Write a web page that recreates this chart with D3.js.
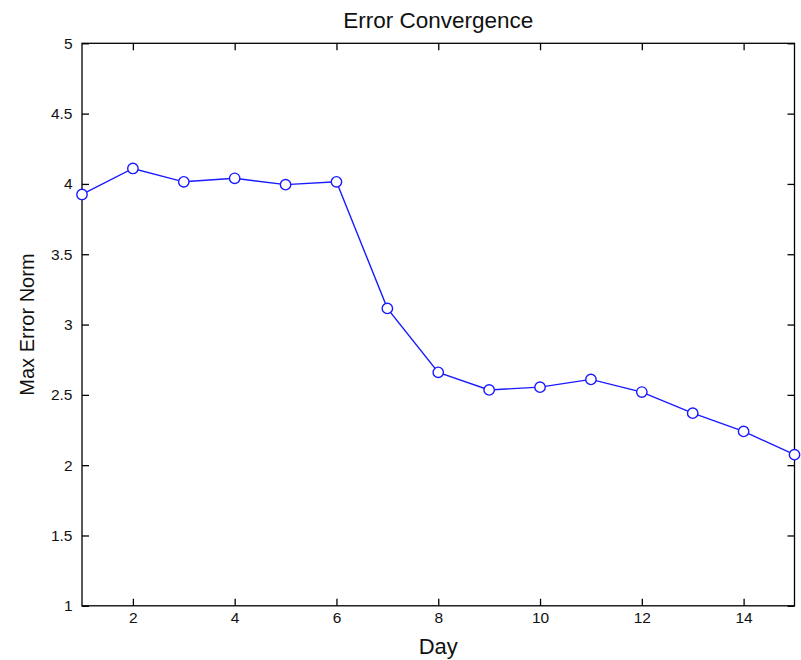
<!DOCTYPE html>
<html>
<head>
<meta charset="utf-8">
<script src="https://cdn.jsdelivr.net/npm/d3@7"></script>
<style>
  html, body { margin: 0; padding: 0; background: #fff; }
  svg { display: block; font-family: "Liberation Sans", Arial, Helvetica, sans-serif; }
</style>
</head>
<body>
<svg id="chart" width="801" height="660"></svg>
<script>
// Daily maximum error norm
const days = [1, 2, 3, 4, 5, 6, 7, 8, 9, 10, 11, 12, 13, 14, 15];
const maxErrorNorm = [3.925, 4.11, 4.015, 4.04, 3.995, 4.015, 3.115, 2.66, 2.535, 2.555, 2.61, 2.52, 2.37, 2.24, 2.075];
const xTicks = [2, 4, 6, 8, 10, 12, 14];
const yTicks = [1, 1.5, 2, 2.5, 3, 3.5, 4, 4.5, 5];

const titleText = "Error Convergence";
const xLabel = "Day";
const yLabel = "Max Error Norm";

const svg = d3.select("#chart");
const W = 801, H = 660;
const margin = { left: 82, right: W - 794.5, top: 43.3, bottom: H - 605.8 };
const x = d3.scaleLinear().domain([1, 15]).range([margin.left, W - margin.right]);
const y = d3.scaleLinear().domain([1, 5]).range([H - margin.bottom, margin.top]);

const tickLen = 7;
const fmt = d => String(d);

// axes: ticks point inward on all four sides
const axisStyle = g => {
  g.selectAll("path").remove();
  g.selectAll("line").attr("stroke", "#000").attr("stroke-width", 1.3);
  g.selectAll("text").attr("fill", "#111").style("font-size", "15.5px");
};

svg.append("g")
  .attr("transform", `translate(0,${y(1)})`)
  .call(d3.axisBottom(x).tickValues(xTicks).tickFormat(fmt).tickSizeInner(-tickLen).tickSizeOuter(0).tickPadding(6))
  .call(axisStyle);

svg.append("g")
  .attr("transform", `translate(0,${y(5)})`)
  .call(d3.axisTop(x).tickValues(xTicks).tickFormat("").tickSizeInner(-tickLen).tickSizeOuter(0))
  .call(axisStyle);

svg.append("g")
  .attr("transform", `translate(${x(1)},0)`)
  .call(d3.axisLeft(y).tickValues(yTicks).tickFormat(fmt).tickSizeInner(-tickLen).tickSizeOuter(0).tickPadding(9.5))
  .call(axisStyle);

svg.append("g")
  .attr("transform", `translate(${x(15)},0)`)
  .call(d3.axisRight(y).tickValues(yTicks).tickFormat("").tickSizeInner(-tickLen).tickSizeOuter(0))
  .call(axisStyle);

// plot frame
svg.append("rect")
  .attr("x", x(1)).attr("y", y(5))
  .attr("width", x(15) - x(1)).attr("height", y(1) - y(5))
  .attr("fill", "none").attr("stroke", "#000").attr("stroke-width", 1.3);

// series line and markers
const pts = days.map((d, i) => [d, maxErrorNorm[i]]);
svg.append("path")
  .datum(pts)
  .attr("fill", "none")
  .attr("stroke", "#1a1aff")
  .attr("stroke-width", 1.4)
  .attr("d", d3.line().x(d => x(d[0])).y(d => y(d[1])));

svg.append("g").selectAll("circle")
  .data(pts).join("circle")
  .attr("cx", d => x(d[0])).attr("cy", d => y(d[1]))
  .attr("r", 5.2)
  .attr("fill", "#fff")
  .attr("stroke", "#1a1aff")
  .attr("stroke-width", 1.4);

// labels
svg.append("text")
  .attr("x", (x(1) + x(15)) / 2).attr("y", 28)
  .attr("text-anchor", "middle")
  .attr("fill", "#111")
  .style("font-size", "22.5px")
  .text(titleText);

svg.append("text")
  .attr("x", (x(1) + x(15)) / 2).attr("y", 654)
  .attr("text-anchor", "middle")
  .attr("fill", "#111")
  .style("font-size", "22px")
  .text(xLabel);

svg.append("text")
  .attr("transform", `translate(34,${(y(1) + y(5)) / 2}) rotate(-90)`)
  .attr("text-anchor", "middle")
  .attr("fill", "#111")
  .style("font-size", "20px")
  .text(yLabel);
</script>
</body>
</html>
